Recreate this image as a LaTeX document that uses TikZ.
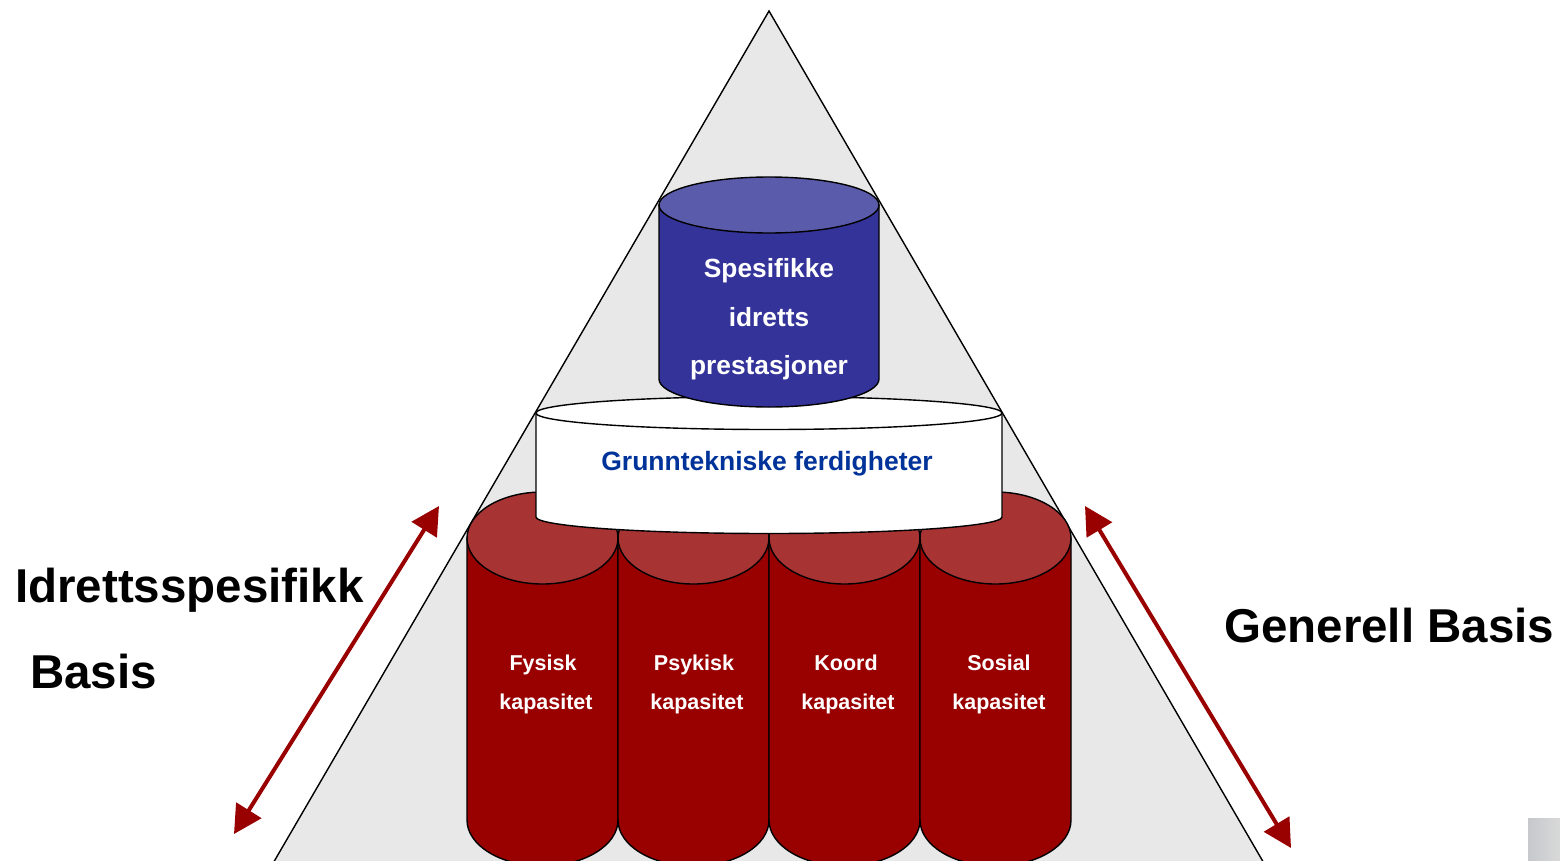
\documentclass[tikz,border=0pt]{standalone}
\usepackage{fontspec}
\setmainfont{Liberation Sans}
\usetikzlibrary{arrows.meta}
\definecolor{trifill}{HTML}{E8E8E8}
\definecolor{bluebody}{HTML}{333399}
\definecolor{bluetop}{HTML}{5B5BAB}
\definecolor{redbody}{HTML}{990000}
\definecolor{redtop}{HTML}{A83333}
\definecolor{arrowred}{HTML}{990000}
\definecolor{textblue}{HTML}{003399}
\definecolor{patchgrey}{HTML}{C6C8CC}
\tikzset{
  outline/.style={draw=black, line width=1.4pt},
  tri/.style={fill=trifill, draw=black, line width=1.4pt},
  bigarrow/.style={draw=arrowred, line width=4pt, {Triangle[length=28pt,width=29pt]}-{Triangle[length=28pt,width=29pt]}},
  bigtext/.style={font=\bfseries\fontsize{47.5}{50}\selectfont, text=black, inner sep=0pt, anchor=base west},
  bluetext/.style={font=\bfseries\fontsize{26.3}{30}\selectfont, text=white, inner sep=0pt, anchor=base},
  whitetext/.style={font=\bfseries\fontsize{26.5}{30}\selectfont, text=textblue, inner sep=0pt, anchor=base},
  redtext/.style={font=\bfseries\fontsize{21.5}{25}\selectfont, text=white, inner sep=0pt, anchor=base},
}
\newcommand{\mycyl}[8]{%
  \filldraw[outline, fill=#7] (#1,-#3) -- (#1,-#4)
    arc[start angle=180, end angle=360, x radius=#5pt, y radius=#6pt]
    -- (#2,-#3) -- cycle;
  \filldraw[outline, fill=#8] ({(#1+#2)/2},-#3) ellipse[x radius=#5pt, y radius=#6pt];
}
\begin{document}
\begin{tikzpicture}[x=1pt, y=1pt]
\clip (0,0) rectangle (1560,-860);
\fill[white] (0,0) rectangle (1560,-860);

% pyramid
\coordinate (apex) at (769,-11);
\coordinate (bl) at (272,-865);
\coordinate (br) at (1265,-865);
\filldraw[tri] (apex) -- (bl) -- (br) -- cycle;

% arrows
\coordinate (la1) at (439,-506);
\coordinate (la2) at (234,-834);
\coordinate (ra1) at (1085,-506);
\coordinate (ra2) at (1291,-848);
\draw[bigarrow] (la2) -- (la1);
\draw[bigarrow] (ra1) -- (ra2);

% red cylinders
\mycyl{467}{618}{538}{820}{75.5}{46}{redbody}{redtop}
\mycyl{618}{769}{538}{820}{75.5}{46}{redbody}{redtop}
\mycyl{769}{920}{538}{820}{75.5}{46}{redbody}{redtop}
\mycyl{920}{1071}{538}{820}{75.5}{46}{redbody}{redtop}

% white disk
\mycyl{536}{1002}{413}{517}{233}{16.5}{white}{white}

% blue cylinder
\mycyl{659}{879}{205}{379}{110}{28}{bluebody}{bluetop}

% texts
\node[bluetext] (b1) at (769,-277) {Spesifikke};
\node[bluetext] (b2) at (769,-326) {idretts};
\node[bluetext] (b3) at (769,-374) {prestasjoner};

\node[whitetext] (w1) at (767,-470) {Grunntekniske ferdigheter};

\node[redtext] (f1) at (543,-670) {Fysisk};
\node[redtext] (f2) at (546,-709) {kapasitet};
\node[redtext] (p1) at (694,-670) {Psykisk};
\node[redtext] (p2) at (697,-709) {kapasitet};
\node[redtext] (k1) at (846,-670) {Koord};
\node[redtext] (k2) at (848,-709) {kapasitet};
\node[redtext] (s1) at (999,-670) {Sosial};
\node[redtext] (s2) at (999,-709) {kapasitet};

\node[bigtext] (l1) at (15,-602) {Idrettsspesifikk};
\node[bigtext] (l2) at (30,-688) {Basis};
\node[bigtext] (r1) at (1224,-642) {Generell Basis};

% image fragment in corner
\shade[left color=patchgrey, right color=gray!30] (1528,-818) rectangle (1560,-860);
\end{tikzpicture}
\end{document}
